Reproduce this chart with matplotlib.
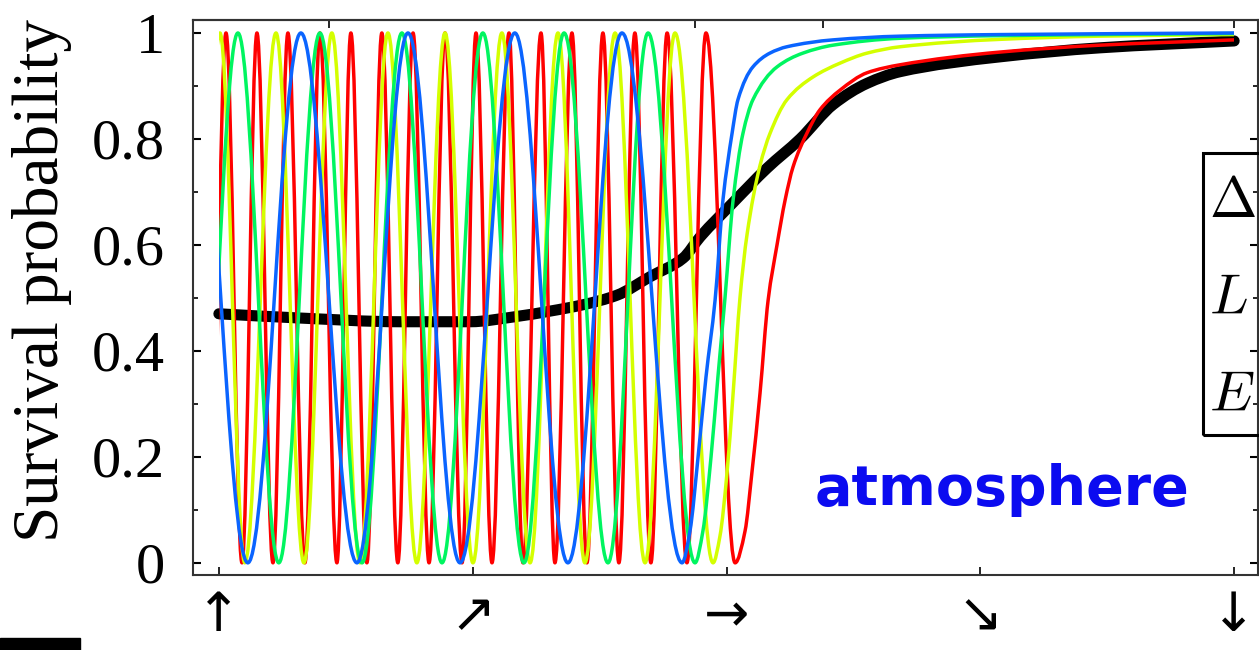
import matplotlib
matplotlib.use('Agg')
import matplotlib.pyplot as plt
from matplotlib.path import Path
from matplotlib.patches import PathPatch, Rectangle

# direction axis: 0 = up-going ... 4 = down-going
dir_ticks = [0, 1, 2, 3, 4]
dir_labels = ['↑', '↗', '→', '↘', '↓']
top_ticks = [0.433, 1.876, 2.38, 4.0]
y_ticks = [0, 0.2, 0.4, 0.6, 0.8, 1]
y_labels = ['0', '0.2', '0.4', '0.6', '0.8', '1']
legend_syms = [r'$\Delta$', r'$L$', r'$E$']

# positions of maxima (P=1) and minima (P=0)
red_peaks = [0.028, 0.150, 0.272, 0.398, 0.520, 0.642, 0.765, 0.891, 1.013, 1.143,
             1.269, 1.391, 1.513, 1.639, 1.766, 1.919]
red_troughs = [-0.035, 0.091, 0.213, 0.339, 0.465, 0.583, 0.705, 0.828, 0.958, 1.076,
               1.198, 1.324, 1.450, 1.576, 1.702, 1.844, 2.034]
red_tail_x = [2.073, 2.100, 2.132, 2.164, 2.199, 2.231, 2.262, 2.317, 2.368, 2.447,
              2.554, 2.684, 3.078, 3.472, 4.0]
red_tail_y = [0.06, 0.17, 0.32, 0.496, 0.60, 0.685, 0.747, 0.811, 0.855, 0.892,
              0.925, 0.94, 0.964, 0.977, 0.987]

yel_peaks = [0.004, 0.225, 0.445, 0.666, 0.891, 1.115, 1.336, 1.561, 1.797]
yel_troughs = [-0.102, 0.102, 0.335, 0.556, 0.780, 1.001, 1.226, 1.442, 1.679, 1.947]
yel_tail_x = [1.974, 2.002, 2.026, 2.053, 2.081, 2.132, 2.171, 2.238, 2.341, 2.447,
              2.554, 2.684, 3.078, 3.472, 4.0]
yel_tail_y = [0.05, 0.17, 0.32, 0.50, 0.62, 0.75, 0.81, 0.874, 0.917, 0.943,
              0.962, 0.974, 0.988, 0.994, 0.997]

grn_peaks = [0.075, 0.398, 0.721, 1.040, 1.360, 1.691]
grn_troughs = [-0.087, 0.236, 0.564, 0.879, 1.202, 1.533, 1.876]
grn_tail_x = [1.907, 1.939, 1.966, 1.994, 2.026, 2.065, 2.104, 2.199, 2.301, 2.420,
              2.684, 3.078, 4.0]
grn_tail_y = [0.06, 0.20, 0.35, 0.50, 0.685, 0.811, 0.874, 0.936, 0.962, 0.977,
              0.99, 0.995, 0.999]

blu_peaks = [-0.099, 0.323, 0.745, 1.166, 1.588]
blu_troughs = [0.114, 0.544, 0.950, 1.375, 1.825]
blu_tail_x = [1.856, 1.888, 1.919, 1.955, 1.986, 2.022, 2.045, 2.104, 2.171, 2.238,
              2.420, 2.684, 3.078, 4.0]
blu_tail_y = [0.06, 0.20, 0.35, 0.496, 0.685, 0.811, 0.874, 0.936, 0.962, 0.974,
              0.987, 0.994, 0.997, 1.0]

# averaged curve
avg_x = [0.0, 0.319, 0.713, 0.989, 1.174, 1.304, 1.434, 1.568, 1.699, 1.829, 1.896,
         2.026, 2.160, 2.290, 2.420, 2.554, 2.684, 3.078, 3.472, 4.0]
avg_y = [0.47, 0.462, 0.455, 0.455, 0.465, 0.475, 0.487, 0.505, 0.54, 0.575, 0.615,
         0.68, 0.745, 0.80, 0.865, 0.905, 0.927, 0.955, 0.972, 0.985]

curves = [
    (red_peaks, red_troughs, red_tail_x, red_tail_y, '#ff0000'),
    (yel_peaks, yel_troughs, yel_tail_x, yel_tail_y, '#d4ff00'),
    (grn_peaks, grn_troughs, grn_tail_x, grn_tail_y, '#00f560'),
    (blu_peaks, blu_troughs, blu_tail_x, blu_tail_y, '#0a64ff'),
]

plt.rcParams['font.family'] = ['Liberation Serif', 'DejaVu Sans']
plt.rcParams['mathtext.fontset'] = 'cm'


def slopes(xs, ys, m0=None):
    # monotone (pchip style) tangents, only used to place bezier handles
    h = [xs[i + 1] - xs[i] for i in range(len(xs) - 1)]
    d = [(ys[i + 1] - ys[i]) / h[i] for i in range(len(h))]
    m = [d[0]]
    for k in range(1, len(xs) - 1):
        if d[k - 1] * d[k] <= 0:
            m.append(0.0)
        else:
            w1 = 2 * h[k] + h[k - 1]
            w2 = h[k] + 2 * h[k - 1]
            m.append((w1 + w2) / (w1 / d[k - 1] + w2 / d[k]))
    m.append(d[-1])
    if m0 is not None:
        m[0] = m0
    return m


def smooth_segments(xs, ys, m):
    verts, codes = [], []
    for i in range(len(xs) - 1):
        h = xs[i + 1] - xs[i]
        verts += [(xs[i] + h / 3, ys[i] + m[i] * h / 3),
                  (xs[i + 1] - h / 3, ys[i + 1] - m[i + 1] * h / 3),
                  (xs[i + 1], ys[i + 1])]
        codes += [Path.CURVE4] * 3
    return verts, codes


def wave_path(peaks, troughs, tail_x, tail_y):
    # half waves between extrema as bezier pieces with flat tangents
    ext = sorted([(x, 1.0) for x in peaks] + [(x, 0.0) for x in troughs])
    a = 0.3634
    verts = [ext[0]]
    codes = [Path.MOVETO]
    for (x0, y0), (x1, y1) in zip(ext[:-1], ext[1:]):
        d = x1 - x0
        verts += [(x0 + a * d, y0), (x1 - a * d, y1), (x1, y1)]
        codes += [Path.CURVE4] * 3
    xs = [ext[-1][0]] + list(tail_x)
    ys = [ext[-1][1]] + list(tail_y)
    v, c = smooth_segments(xs, ys, slopes(xs, ys, m0=0.0))
    return Path(verts + v, codes + c)


def line_path(xs, ys):
    v, c = smooth_segments(xs, ys, slopes(xs, ys))
    return Path([(xs[0], ys[0])] + v, [Path.MOVETO] + c)


fig = plt.figure(figsize=(12.59, 6.5), dpi=100)
ax = fig.add_axes([193 / 1259, 75 / 650, 1065 / 1259, 555 / 650])

ax.add_patch(PathPatch(line_path(avg_x, avg_y), fill=False, edgecolor='k', lw=8,
                       capstyle='round', joinstyle='round', zorder=1))

for pk, tr, tx, ty, col in curves:
    pp = PathPatch(wave_path(pk, tr, tx, ty), fill=False, edgecolor=col, lw=2.5,
                   joinstyle='round', capstyle='butt', zorder=2)
    ax.add_patch(pp)
    clip = Rectangle((0, -0.5), 4.0, 2.0, transform=ax.transData)
    pp.set_clip_path(clip)

ax.set_xlim(-0.102, 4.094)
ax.set_ylim(-0.023, 1.0245)

ax.set_yticks(y_ticks)
ax.set_yticklabels(y_labels, fontsize=42)
ax.set_yticks([0.1, 0.3, 0.5, 0.7, 0.9], minor=True)
ax.set_xticks(dir_ticks)
ax.set_xticklabels(dir_labels, fontsize=39, family=['DejaVu Sans'])

ax.tick_params(axis='y', which='major', direction='in', length=6, width=1.5,
               right=True, pad=20)
ax.tick_params(axis='y', which='minor', direction='in', length=3.5, width=1.2, right=True)
ax.tick_params(axis='x', which='major', direction='in', length=6, width=1.2,
               top=False, pad=11)

sec = ax.secondary_xaxis('top')
sec.set_xticks(top_ticks)
sec.set_xticklabels([''] * len(top_ticks))
sec.tick_params(direction='in', length=6, width=1.2)
sec.spines['top'].set_linewidth(1.5)
sec.spines['top'].set_color('#333333')

for s in ax.spines.values():
    s.set_linewidth(1.5)
    s.set_color('#333333')

fig.text(42 / 1259, 1 - 280 / 650, 'Survival probability', rotation=90,
         ha='center', va='center', fontsize=47)

ax.text(3.086, 0.138, 'atmosphere', color='#0b0bf0', fontsize=40,
        fontweight='bold', family=['DejaVu Sans'], ha='center', va='center')

# legend box, cut by the right border
fig.add_artist(Rectangle((1203 / 1259, 215 / 650), 120 / 1259, 282 / 650,
                         transform=fig.transFigure, fill=False, lw=2.2,
                         ec='k', clip_on=False))
for i, sym in enumerate(legend_syms):
    fig.text(1209 / 1259, (433 - 97 * i) / 650, sym, fontsize=41,
             ha='left', va='baseline')

fig.add_artist(Rectangle((0, 0), 80 / 1259, 12 / 650, transform=fig.transFigure,
                         color='k', clip_on=False))

fig.savefig('out.png', dpi=100)
